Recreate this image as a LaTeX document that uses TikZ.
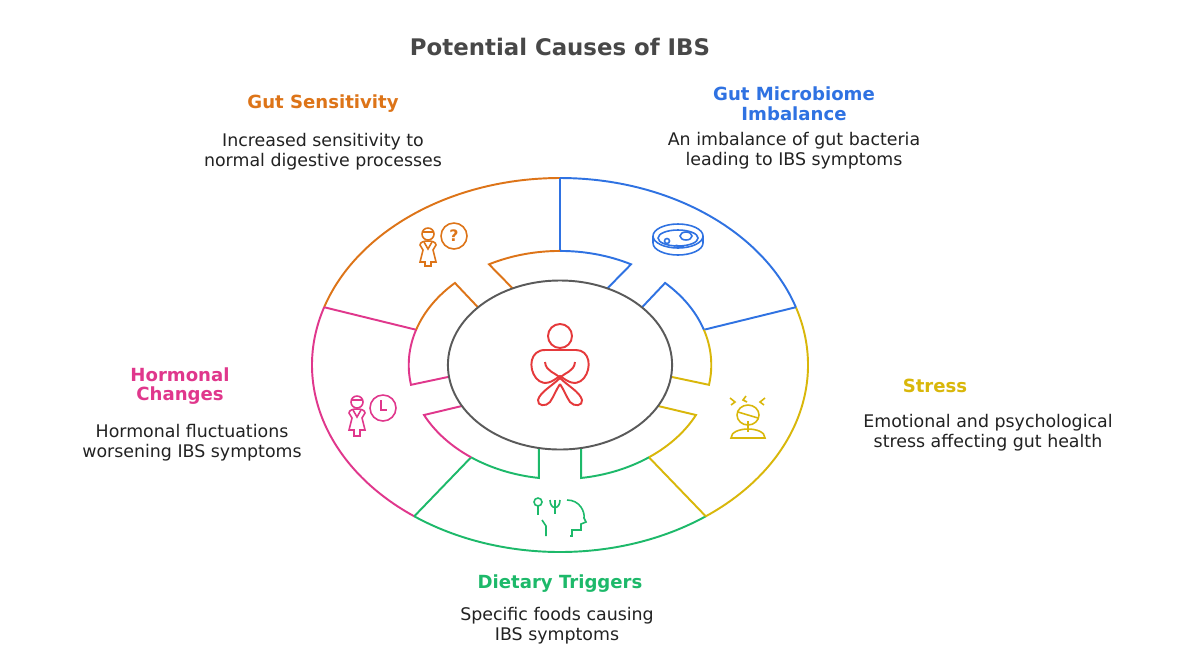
\documentclass[tikz,border=0pt]{standalone}
\usepackage{fontspec}
\setmainfont{DejaVu Sans}
\definecolor{cor}{HTML}{DD7418}
\definecolor{cbl}{HTML}{2F72E2}
\definecolor{cye}{HTML}{D9B70A}
\definecolor{cgr}{HTML}{1DB96A}
\definecolor{cpk}{HTML}{E0378C}
\definecolor{cre}{HTML}{E5393B}
\definecolor{cgy}{HTML}{5A5A5A}
\definecolor{ctx}{HTML}{222222}
\tikzset{
  seg/.style={line width=1.1pt},
  ttl/.style={font=\bfseries\fontsize{10.3}{11.3}\selectfont, align=center},
  dsc/.style={font=\fontsize{9.9}{11.4}\selectfont, align=center, text=ctx},
  ico/.style={line width=0.9pt}
}
\begin{document}
\begin{tikzpicture}[x=0.02cm,y=-0.02cm]
\useasboundingbox[fill=white] (0,0) rectangle (1185,667);
\node[font=\bfseries\fontsize{13}{15}\selectfont, text=cgy!80!black] (title) at (560,47) {Potential Causes of IBS};
\begin{scope}[shift={(560,365)}, xscale=248, yscale=-187]
  \draw[seg,cor] (90:1) arc[start angle=90,end angle=162,radius=1];
  \draw[seg,cbl] (18:1) arc[start angle=18,end angle=90,radius=1];
  \draw[seg,cye] (-54:1) arc[start angle=-54,end angle=18,radius=1];
  \draw[seg,cgr] (-126:1) arc[start angle=-126,end angle=-54,radius=1];
  \draw[seg,cpk] (162:1) arc[start angle=162,end angle=234,radius=1];
  \draw[seg,cbl] (90:1) -- (90:0.61);
  \draw[seg,cbl] (18:1) -- (18:0.61);
  \draw[seg,cye] (-54:1) -- (-54:0.61);
  \draw[seg,cgr] (-126:1) -- (-126:0.61);
  \draw[seg,cpk] (162:1) -- (162:0.61);
  \draw[seg,cor] (115:0.452) -- (118:0.61) arc[start angle=118,end angle=90,radius=0.61];
  \draw[seg,cbl] (90:0.61) arc[start angle=90,end angle=62,radius=0.61] -- (65:0.452);
  \draw[seg,cbl] (43:0.452) -- (46:0.61) arc[start angle=46,end angle=18,radius=0.61];
  \draw[seg,cye] (18:0.61) arc[start angle=18,end angle=-10,radius=0.61] -- (-8:0.452);
  \draw[seg,cye] (-29:0.452) -- (-26:0.61) arc[start angle=-26,end angle=-54,radius=0.61];
  \draw[seg,cgr] (-54:0.61) arc[start angle=-54,end angle=-82,radius=0.61] -- (0.0849,-0.444);
  \draw[seg,cgr] (-0.0849,-0.444) -- (-98:0.61) arc[start angle=-98,end angle=-126,radius=0.61];
  \draw[seg,cpk] (-126:0.61) arc[start angle=-126,end angle=-154,radius=0.61] -- (-151:0.452);
  \draw[seg,cpk] (-172:0.452) -- (-170:0.61) arc[start angle=190,end angle=162,radius=0.61];
  \draw[seg,cor] (162:0.61) arc[start angle=162,end angle=134,radius=0.61] -- (137:0.452);
  \draw[seg,cgy] (0,0) circle[radius=0.452];
\end{scope}
\begin{scope}[ico,cre,line width=1.1pt]
  \draw (560,336) circle[radius=12];
  \draw (545,350) -- (576,350) .. controls (590,350) and (592,368) .. (584,378)
        .. controls (580,383) and (574,385) .. (566,380) -- (560,376) -- (554,380)
        .. controls (546,385) and (540,383) .. (536,378) .. controls (528,368) and (530,350) .. (545,350);
  \draw (545,362) .. controls (546,372) and (555,372) .. (560,378);
  \draw (575,362) .. controls (574,372) and (565,372) .. (560,378);
  \draw (560,378) .. controls (552,386) and (540,392) .. (538,400) .. controls (537,406) and (546,407) .. (550,402) .. controls (554,396) and (556,390) .. (560,384);
  \draw (560,378) .. controls (568,386) and (580,392) .. (582,400) .. controls (583,406) and (574,407) .. (570,402) .. controls (566,396) and (564,390) .. (560,384);
\end{scope}
\begin{scope}[ico,cor]
  \draw (428,234) circle[radius=6];
  \draw (423,232) -- (433,232);
  \draw (420,262) -- (423,250) -- (420,245) .. controls (420,242) and (424,241) .. (428,241) .. controls (432,241) and (436,242) .. (436,245) -- (433,250) -- (436,262) -- (431,262) -- (431,266) -- (425,266) -- (425,262) -- cycle;
  \draw (424,242) -- (428,249) -- (432,242);
  \draw (454,236) circle[radius=13];
  \node[cor, font=\bfseries\fontsize{9}{9}\selectfont] (q) at (454,236) {?};
\end{scope}
\begin{scope}[ico,cbl]
  \draw (678,236) ellipse[x radius=25,y radius=12];
  \draw (653,236) -- (653,243) .. controls (653,250) and (665,255) .. (678,255) .. controls (691,255) and (703,250) .. (703,243) -- (703,236);
  \draw (678,238) ellipse[x radius=20,y radius=8];
  \draw (667,241) circle[radius=2.5];
  \draw (686,236) ellipse[x radius=6,y radius=4];
  \draw (674,246) .. controls (678,244) and (680,248) .. (684,246);
\end{scope}
\begin{scope}[ico,cye]
  \draw (748,415) ellipse[x radius=11,y radius=10];
  \draw (738,412) -- (758,418);
  \draw (748,421) -- (748,432);
  \draw (731,438) .. controls (731,426) and (765,426) .. (765,438) -- cycle;
  \draw (730,398) -- (735,402) -- (731,405);
  \draw (746,396) -- (743,400) -- (747,402);
  \draw (765,398) -- (760,402) -- (764,405);
\end{scope}
\begin{scope}[ico,cgr]
  \draw (538,502) circle[radius=4];
  \draw (538,506) -- (538,515);
  \draw (542,520) -- (546,526) -- (546,536);
  \draw (555,500) -- (555,514);
  \draw (550,500) .. controls (550,510) and (560,510) .. (560,500);
  \draw (567,500) .. controls (580,500) and (585,512) .. (584,518) -- (586,522) -- (581,524) -- (581,530) -- (572,530) -- (572,536) -- (570,536);
\end{scope}
\begin{scope}[ico,cpk]
  \draw (357,402) circle[radius=6];
  \draw (352,400) -- (362,400);
  \draw (349,430) -- (352,418) -- (349,413) .. controls (349,410) and (353,409) .. (357,409) .. controls (361,409) and (365,410) .. (365,413) -- (362,418) -- (365,430) -- (360,430) -- (360,436) -- (354,436) -- (354,430) -- cycle;
  \draw (353,410) -- (357,417) -- (361,410);
  \draw (383,408) circle[radius=13];
  \draw (381,400) -- (381,410) -- (387,410);
\end{scope}
\node[ttl,text=cor] (t1) at (323,104) {Gut Sensitivity};
\node[dsc] (d1) at (323,152) {Increased sensitivity to\\normal digestive processes};
\node[ttl,text=cbl] (t2) at (794,104) {Gut Microbiome\\Imbalance};
\node[dsc] (d2) at (794,151) {An imbalance of gut bacteria\\leading to IBS symptoms};
\node[ttl,text=cye] (t3) at (935,386) {Stress};
\node[dsc] (d3) at (988,433) {Emotional and psychological\\stress affecting gut health};
\node[ttl,text=cpk] (t4) at (180,386) {Hormonal\\Changes};
\node[dsc] (d4) at (192,443) {Hormonal fluctuations\\worsening IBS symptoms};
\node[ttl,text=cgr] (t5) at (560,584) {Dietary Triggers};
\node[dsc] (d5) at (557,626) {Specific foods causing\\IBS symptoms};
\end{tikzpicture}
\end{document}
